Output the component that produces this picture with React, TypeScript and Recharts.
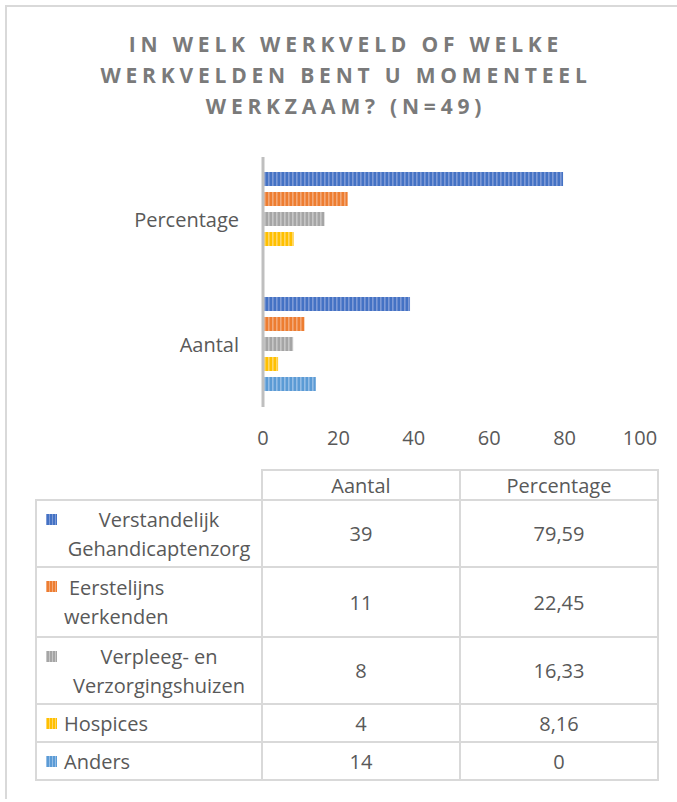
import React from "react";
import { BarChart, Bar, XAxis, YAxis } from "recharts";

const categories = ["Percentage", "Aantal"];
const seriesNames = [
  "Verstandelijk Gehandicaptenzorg",
  "Eerstelijns werkenden",
  "Verpleeg- en Verzorgingshuizen",
  "Hospices",
  "Anders",
];
// table rows break the labels like the original
const seriesLines = [
  ["Verstandelijk", "Gehandicaptenzorg"],
  ["Eerstelijns", "werkenden"],
  ["Verpleeg- en", "Verzorgingshuizen"],
  ["Hospices"],
  ["Anders"],
];
const aantal = [39, 11, 8, 4, 14];
const percentage = [79.59, 22.45, 16.33, 8.16, 0];
const xTicks = [0, 20, 40, 60, 80, 100];

const colors = ["#4472C4", "#ED7D31", "#A5A5A5", "#FFC000", "#5B9BD5"];
const stripes = ["#7d9ad6", "#f3a877", "#c6c6c6", "#ffd766", "#94bde6"];

const FONT = "'Open Sans', sans-serif";
const TEXT = "#595959";
const BORDER = "#d9d9d9";

const valuesByCategory: Record<string, number[]> = {
  Percentage: percentage,
  Aantal: aantal,
};

const data = categories.map((c) => {
  const row: Record<string, string | number> = { name: c };
  seriesNames.forEach((_, i) => {
    row["s" + i] = valuesByCategory[c][i];
  });
  return row;
});

const fmt = (v: number) => String(v).replace(".", ",");

// table geometry
const colX = [36, 262, 460, 658];
const rowY = [470, 500, 567, 637, 704, 742, 780];
const align: ("center" | "left")[] = ["center", "left", "center", "left", "left"];

function Key({ i }: { i: number }) {
  return (
    <svg width={11} height={11} style={{ display: "block" }}>
      <rect width={11} height={11} fill={`url(#key${i})`} />
      <defs>
        <pattern id={`key${i}`} patternUnits="userSpaceOnUse" width={3} height={11}>
          <rect width={3} height={11} fill={colors[i]} />
          <rect width={1} height={11} fill={stripes[i]} />
        </pattern>
      </defs>
    </svg>
  );
}

function DataTable() {
  const cells: React.ReactNode[] = [];
  const cellStyle = (x0: number, x1: number, y0: number, y1: number): React.CSSProperties => ({
    position: "absolute",
    left: x0,
    top: y0,
    width: x1 - x0,
    height: y1 - y0,
    border: `2px solid ${BORDER}`,
    boxSizing: "border-box",
    display: "flex",
    alignItems: "center",
    justifyContent: "center",
    fontFamily: FONT,
    fontSize: 20,
    color: TEXT,
    marginLeft: -1,
    marginTop: -1,
  });
  ["Aantal", "Percentage"].forEach((h, j) => {
    cells.push(
      <div key={"h" + j} style={cellStyle(colX[j + 1], colX[j + 2] + 2, rowY[0], rowY[1] + 2)}>
        {h}
      </div>
    );
  });
  seriesNames.forEach((_, i) => {
    const y0 = rowY[i + 1];
    const y1 = rowY[i + 2] + 2;
    cells.push(
      <div key={"l" + i} style={{ ...cellStyle(colX[0], colX[1] + 2, y0, y1), justifyContent: "flex-start" }}>
        <div style={{ position: "absolute", left: 9, top: 13 }}>
          <Key i={i} />
        </div>
        <div
          style={{
            position: "absolute",
            left: 27,
            width: 190,
            textAlign: align[i],
            lineHeight: "29px",
            paddingLeft: i === 1 ? 5 : 0,
            boxSizing: "border-box",
          }}
        >
          {seriesLines[i].map((l, k) => (
            <div key={k} style={{ marginLeft: i === 1 && k === 1 ? -5 : 0 }}>
              {l}
            </div>
          ))}
        </div>
      </div>
    );
    cells.push(
      <div key={"a" + i} style={cellStyle(colX[1], colX[2] + 2, y0, y1)}>
        {aantal[i]}
      </div>
    );
    cells.push(
      <div key={"p" + i} style={cellStyle(colX[2], colX[3] + 2, y0, y1)}>
        {fmt(percentage[i])}
      </div>
    );
  });
  return <>{cells}</>;
}

export default function App() {
  return (
    <div
      style={{
        position: "absolute",
        left: 0,
        top: 0,
        width: 677,
        height: 802,
        background: "#fff",
        overflow: "hidden",
      }}
    >
      <div
        style={{
          position: "absolute",
          left: 5,
          top: 5,
          width: 700,
          height: 792,
          borderLeft: `2px solid ${BORDER}`,
          borderTop: `2px solid ${BORDER}`,
        }}
      />
      <div
        style={{
          position: "absolute",
          left: 5,
          top: 29,
          width: 682,
          textAlign: "center",
          fontFamily: FONT,
          fontWeight: 700,
          fontSize: 21,
          letterSpacing: 4.8,
          lineHeight: "31px",
          color: "#7a7a7a",
        }}
      >
        IN WELK WERKVELD OF WELKE
        <br />
        WERKVELDEN BENT U MOMENTEEL
        <br />
        WERKZAAM? (N=49)
      </div>
      <div style={{ position: "absolute", left: 0, top: 0 }}>
        <BarChart
          width={677}
          height={470}
          data={data}
          layout="vertical"
          margin={{ top: 157, right: 37, left: 0, bottom: 13 }}
          barCategoryGap="12%"
          barGap={6}
        >
          <defs>
            {colors.map((c, i) => (
              <pattern key={i} id={`stripe${i}`} patternUnits="userSpaceOnUse" width={4} height={20}>
                <rect width={4} height={20} fill={c} />
                <rect width={1.6} height={20} fill={stripes[i]} />
              </pattern>
            ))}
          </defs>
          <XAxis
            type="number"
            domain={[0, 100]}
            ticks={xTicks}
            axisLine={false}
            tickLine={false}
            tickMargin={18}
            height={50}
            tick={{ fill: TEXT, fontSize: 20, fontFamily: FONT }}
          />
          <YAxis
            type="category"
            dataKey="name"
            width={263}
            tickLine={false}
            tickMargin={18}
            axisLine={{ stroke: "#bfbfbf", strokeWidth: 3 }}
            tick={{ fill: TEXT, fontSize: 20, fontFamily: FONT }}
          />
          {seriesNames.map((n, i) => (
            <Bar
              key={n}
              dataKey={"s" + i}
              name={n}
              fill={`url(#stripe${i})`}
              isAnimationActive={false}
            />
          ))}
        </BarChart>
      </div>
      <DataTable />
    </div>
  );
}
